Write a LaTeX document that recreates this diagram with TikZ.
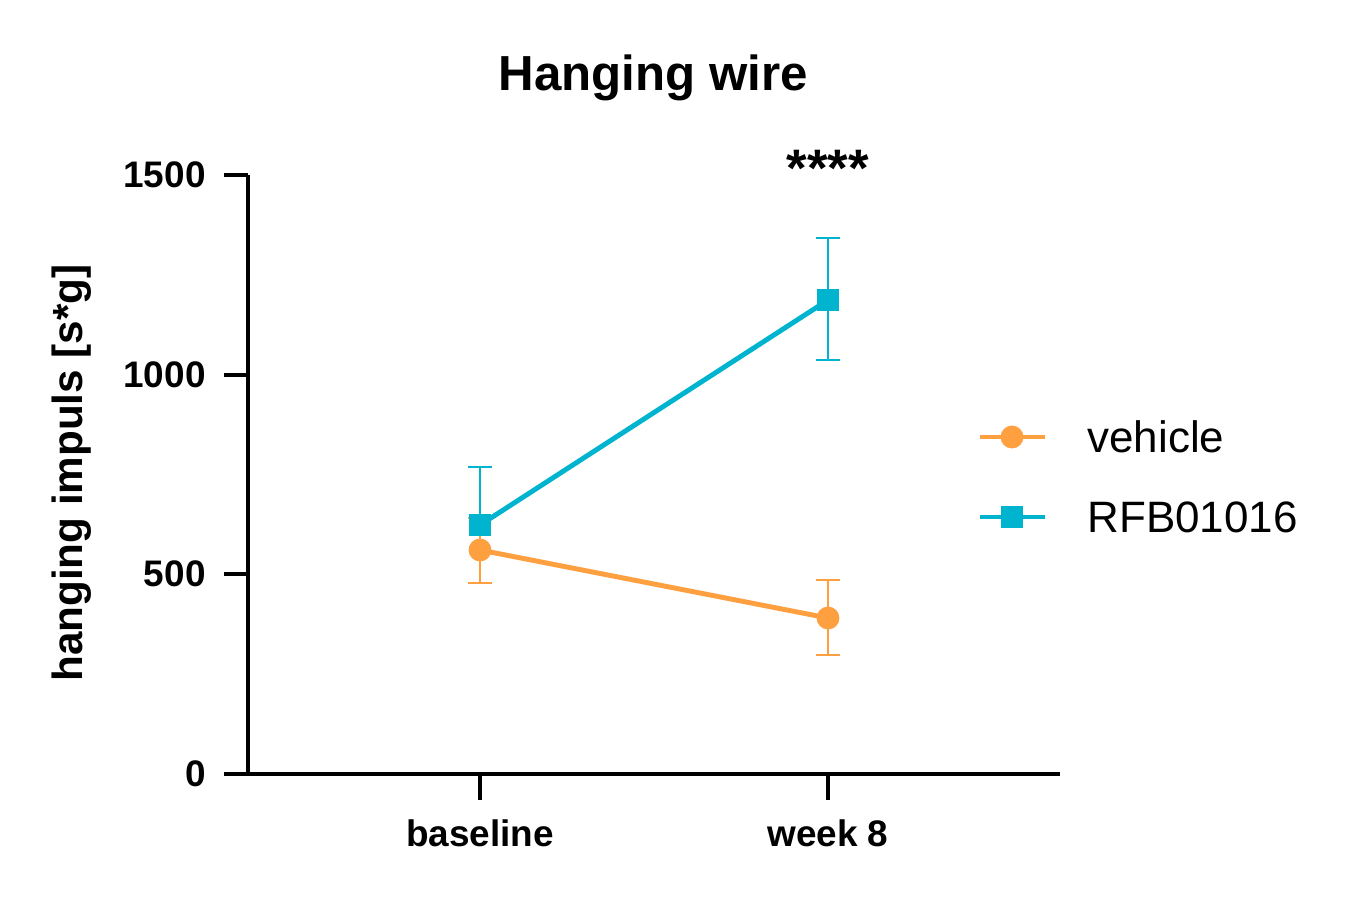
\documentclass[tikz,border=0pt]{standalone}
\usepackage{fontspec}
\setmainfont{Liberation Sans}
\definecolor{org}{HTML}{FFA040}
\definecolor{cyn}{HTML}{00B4D0}
\begin{document}
\begin{tikzpicture}[x=0.01cm,y=-0.01cm,
 ax/.style={line width=1.2pt,black},
 tl/.style={font=\bfseries\fontsize{10.5}{12}\selectfont},
 dl/.style={line width=1.4pt},
 eb/.style={line width=0.7pt},
 circmark/.style={circle,fill=org,inner sep=0pt,minimum size=6.5pt},
 sqmark/.style={rectangle,fill=cyn,inner sep=0pt,minimum size=6.5pt}]
\useasboundingbox (0,0) rectangle (1364,896);
\node[font=\bfseries\fontsize{14}{16}\selectfont] (title) at (653,78) {Hanging wire};
% axes
\draw[ax] (248,175) -- (248,774) -- (1060,774);
\foreach \v/\yy in {0/774,500/574,1000/375,1500/175}{
 \draw[ax] (224,\yy) -- (248,\yy);
 \node[tl,anchor=east] at (218,\yy) {\v};}
\draw[ax] (480,774) -- (480,800);
\draw[ax] (828,774) -- (828,800);
\node[tl] (xb) at (480,833) {baseline};
\node[tl] (xw) at (828,833) {week 8};
\node[font=\bfseries\fontsize{12}{14}\selectfont,rotate=90] (yl) at (72,473) {hanging impuls [s*g]};
\node[font=\bfseries\fontsize{15}{16}\selectfont] (st) at (828,168) {****};
% error bars
\draw[eb,cyn] (480,467) -- (480,583) (468,467) -- (492,467) (468,583) -- (492,583);
\draw[eb,cyn] (828,238) -- (828,360) (816,238) -- (840,238) (816,360) -- (840,360);
\draw[eb,org] (480,518) -- (480,583) (468,518) -- (492,518) (468,583) -- (492,583);
\draw[eb,org] (828,580) -- (828,655) (816,580) -- (840,580) (816,655) -- (840,655);
% data
\node[sqmark] (b1) at (480,525) {};
\node[sqmark] (b2) at (828,300) {};
\node[circmark] (o1) at (480,550) {};
\node[circmark] (o2) at (828,618) {};
\draw[dl,cyn] (b1.center) -- (b2.center);
\draw[dl,org] (o1.center) -- (o2.center);
% legend
\draw[dl,org] (980,437) -- (1045,437);
\node[circmark] (lo) at (1012,437) {};
\node[anchor=west,font=\fontsize{12.5}{14}\selectfont] (lt1) at (1075,437) {vehicle};
\draw[dl,cyn] (980,517) -- (1045,517);
\node[sqmark] (ls) at (1012,517) {};
\node[anchor=west,font=\fontsize{12.5}{14}\selectfont] (lt2) at (1075,517) {RFB01016};
\end{tikzpicture}
\end{document}
